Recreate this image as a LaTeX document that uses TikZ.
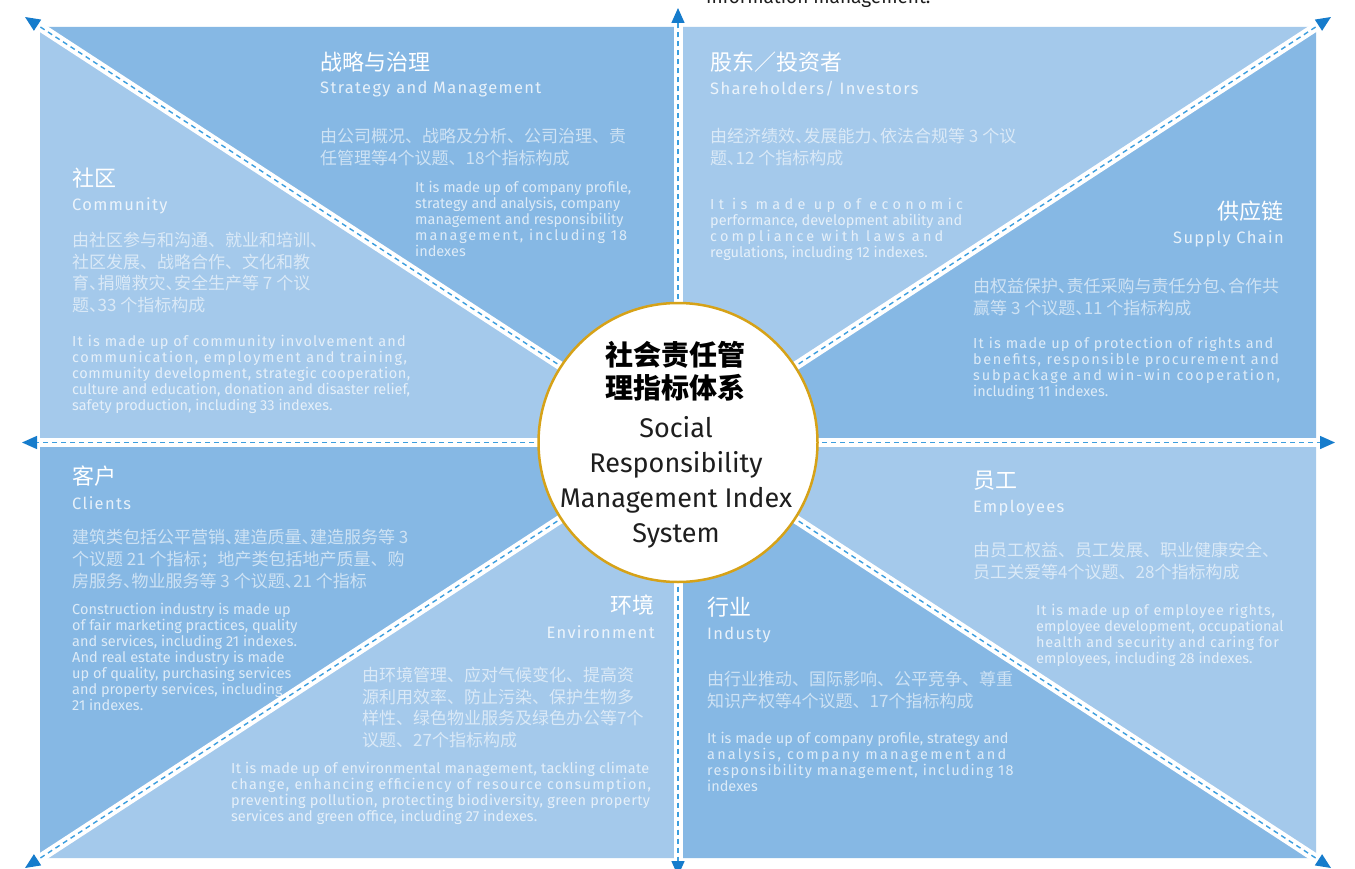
\documentclass[tikz,border=0pt]{standalone}
\usepackage{fontspec}
\usetikzlibrary{arrows.meta}
\setmainfont{Fira Sans}
\newfontfamily\cjk{Noto Sans CJK SC}
\newfontfamily\bodyf{Fira Sans}
\newfontfamily\subf[LetterSpace=8]{Fira Sans}
\newcommand\ls[2]{{\addfontfeature{LetterSpace=#1}#2}}
\newcommand\nc{\makebox[0.5em][l]{、}}
\definecolor{darkpanel}{RGB}{134,184,228}
\definecolor{lightpanel}{RGB}{164,201,235}
\definecolor{dashblue}{RGB}{60,158,222}
\definecolor{arrowblue}{RGB}{22,124,204}
\definecolor{ringgold}{RGB}{214,162,24}
\definecolor{inktext}{RGB}{30,30,30}
\tikzset{
  ttl/.style={anchor=west, inner sep=0pt, text=white, font=\cjk\fontsize{22}{26}\selectfont},
  ttlr/.style={ttl, anchor=east},
  sub/.style={anchor=west, inner sep=0pt, text=white, text opacity=0.8, font=\subf\fontsize{16.5}{20}\selectfont},
  subr/.style={sub, anchor=east},
  cbody/.style={anchor=north west, inner sep=0pt, align=left, text=white, text opacity=0.6, font=\cjk\fontsize{17}{21.5}\selectfont},
  ebody/.style={anchor=north west, inner sep=0pt, align=left, text=white, text opacity=0.72, font=\bodyf\fontsize{14.5}{16}\selectfont},
  bandw/.style={draw=white, line width=9pt},
  banddash/.style={draw=dashblue, line width=1.4pt, dash pattern=on 5pt off 4pt, -{Triangle[length=15pt,width=13pt,color=arrowblue]}},
  hubstyle/.style={circle, draw=ringgold, line width=2.5pt, fill=white, minimum size=279pt, inner sep=0pt},
}
\begin{document}
\begin{tikzpicture}[x=1pt,y=-1pt]
\useasboundingbox (0,0) rectangle (1355,869);
\fill[white] (0,0) rectangle (1355,869);
% key points
\coordinate (c) at (678,442.5);
\coordinate (ctl) at (40,27);
\coordinate (ctr) at (1316,27);
\coordinate (cbl) at (40,858);
\coordinate (cbr) at (1316,858);
\coordinate (mt) at (678,27);
\coordinate (mb) at (678,858);
\coordinate (ml) at (40,442.5);
\coordinate (mr) at (1316,442.5);
% panels
\fill[darkpanel] (c) -- (ctl) -- (mt) -- cycle;
\fill[lightpanel] (c) -- (mt) -- (ctr) -- cycle;
\fill[darkpanel] (c) -- (ctr) -- (mr) -- cycle;
\fill[lightpanel] (c) -- (mr) -- (cbr) -- cycle;
\fill[darkpanel] (c) -- (cbr) -- (mb) -- cycle;
\fill[lightpanel] (c) -- (mb) -- (cbl) -- cycle;
\fill[darkpanel] (c) -- (cbl) -- (ml) -- cycle;
\fill[lightpanel] (c) -- (ml) -- (ctl) -- cycle;

% cut-off caption at top
\node[anchor=base west, inner sep=0pt, text=inktext, font=\fontsize{19}{22}\selectfont] (topcap) at (706,3.5) {information management.};

% Strategy
\node[ttl] (t1) at (320,62) {战略与治理};
\node[sub] (s1) at (320,89) {Strategy and Management};
\node[cbody] (c1) at (320,128) {由公司概况、战略及分析、公司治理、责\\任管理等4个议题、18个指标构成};
\node[ebody] (e1) at (415,181) {It is made up of company profile,\\strategy and analysis, company\\management and responsibility\\\ls{13}{management, including 18}\\indexes};

% Shareholders
\node[ttl] (t2) at (710,62) {股东／投资者};
\node[sub] (s2) at (710,89) {Shareholders/ Investors};
\node[cbody] (c2) at (710,128) {由经济绩效\nc 发展能力\nc 依法合规等 3 个议\\题\nc 12 个指标构成};
\node[ebody] (e2) at (710,198) {\ls{30}{It is made up of economic}\\performance, development ability and\\\ls{22}{compliance with laws and}\\regulations, including 12 indexes.};

% Community
\node[ttl] (t3) at (72,178) {社区};
\node[sub] (s3) at (72,206) {Community};
\node[cbody] (c3) at (72,232) {由社区参与和沟通、就业和培训、\\社区发展、战略合作、文化和教\\育\nc 捐赠救灾\nc 安全生产等 7 个议\\题\nc 33 个指标构成};
\node[ebody] (e3) at (72,335) {\ls{8}{It is made up of community involvement and}\\\ls{11}{communication, employment and training,}\\\ls{4}{community development, strategic cooperation,}\\culture and education, donation and disaster relief,\\safety production, including 33 indexes.};

% Supply chain
\node[ttlr] (t4) at (1284,211) {供应链};
\node[subr] (s4) at (1284,239) {Supply Chain};
\node[cbody] (c4) at (973,278) {由权益保护\nc 责任采购与责任分包\nc 合作共\\赢等 3 个议题\nc 11 个指标构成};
\node[ebody] (e4) at (973,337) {\ls{8}{It is made up of protection of rights and}\\\ls{11}{benefits, responsible procurement and}\\\ls{13}{subpackage and win-win cooperation,}\\including 11 indexes.};

% Clients
\node[ttl] (t5) at (72,476) {客户};
\node[sub] (s5) at (72,503) {Clients};
\node[cbody, font=\cjk\fontsize{17}{22}\selectfont] (c5) at (72,529) {建筑类包括公平营销\nc 建造质量\nc 建造服务等 3\\个议题 21 个指标；地产类包括地产质量、购\\房服务\nc 物业服务等 3 个议题\nc 21 个指标};
\node[ebody] (e5) at (72,603) {Construction industry is made up\\of fair marketing practices, quality\\and services, including 21 indexes.\\And real estate industry is made\\up of quality, purchasing services\\and property services, including\\21 indexes.};

% Employees
\node[ttl] (t6) at (973,481) {员工};
\node[sub] (s6) at (973,508) {Employees};
\node[cbody] (c6) at (973,542) {由员工权益、员工发展、职业健康安全、\\员工关爱等4个议题、28个指标构成};
\node[ebody] (e6) at (1036,604) {\ls{6}{It is made up of employee rights,}\\employee development, occupational\\\ls{5}{health and security and caring for}\\employees, including 28 indexes.};

% Environment
\node[ttlr] (t7) at (655,605) {环境};
\node[subr] (s7) at (655,632) {Environment};
\node[cbody] (c7) at (362,667) {由环境管理、应对气候变化、提高资\\源利用效率、防止污染、保护生物多\\样性、绿色物业服务及绿色办公等7个\\议题、27个指标构成};
\node[ebody] (e7) at (231,762) {\ls{2}{It is made up of environmental management, tackling climate}\\\ls{9}{change, enhancing efficiency of resource consumption,}\\\ls{3}{preventing pollution, protecting biodiversity, green property}\\services and green office, including 27 indexes.};

% Industry
\node[ttl] (t8) at (707,607) {行业};
\node[sub] (s8) at (707,635) {Industy};
\node[cbody] (c8) at (707,671) {由行业推动、国际影响、公平竞争、尊重\\知识产权等4个议题、17个指标构成};
\node[ebody] (e8) at (707,732) {It is made up of company profile, strategy and\\\ls{15}{analysis, company management and}\\\ls{8}{responsibility management, including 18}\\indexes};

% arrow ends
\coordinate (at) at (678,8);
\coordinate (ab) at (678,876);
\coordinate (al) at (22,442.5);
\coordinate (ar) at (1335,442.5);
\coordinate (atl) at (25,17);
\coordinate (atr) at (1331,17);
\coordinate (abl) at (25,868);
\coordinate (abr) at (1331,868);
% bands
\foreach \e in {at,ab,al,ar,atl,atr,abl,abr}{
  \draw[bandw] (c) -- (\e);
}
\foreach \e in {at,ab,al,ar,atl,atr,abl,abr}{
  \draw[banddash] (c) -- (\e);
}

% hub
\node[hubstyle] (hub) at (c) {};
\node[align=center, inner sep=0pt, text=black, font=\cjk\bfseries\fontsize{28}{33}\selectfont] (hubzh) at (675,371) {社会责任管\\理指标体系};
\node[align=center, inner sep=0pt, text=inktext, font=\fontsize{27}{35}\selectfont] (huben) at (676,482) {Social\\Responsibility\\Management Index\\System};
\end{tikzpicture}
\end{document}
